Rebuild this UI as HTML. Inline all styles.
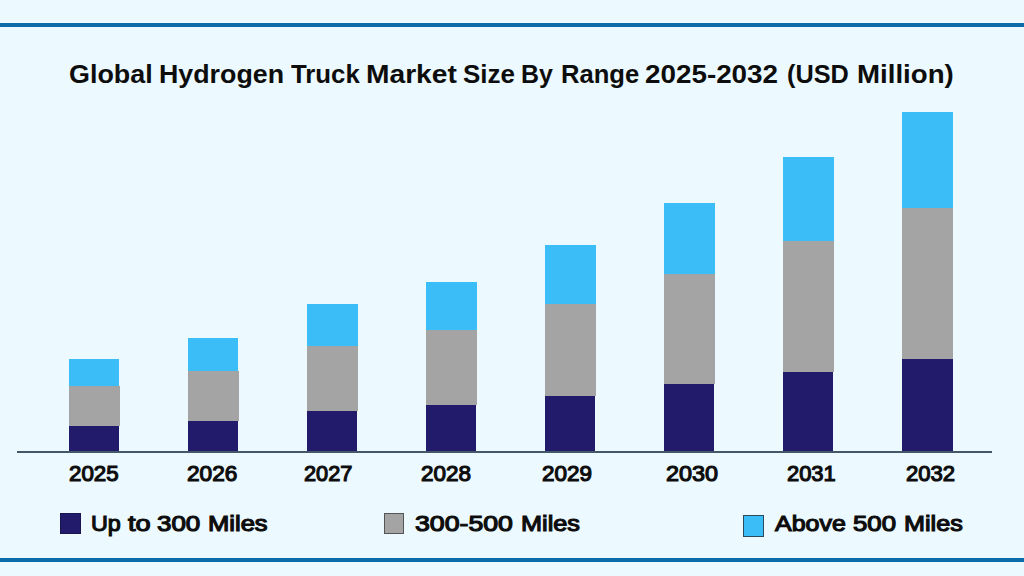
<!DOCTYPE html>
<html><head><meta charset="utf-8"><style>
html,body{margin:0;padding:0;}
body{width:1024px;height:576px;position:relative;overflow:hidden;background:#ecf9fe;font-family:"Liberation Sans",sans-serif;color:#0d0d0d;}
.ln{position:absolute;left:0;width:1024px;height:4px;background:#0a6ca8;}
.ax{position:absolute;left:17px;width:975px;top:451px;height:2px;background:#45586a;}
.b{position:absolute;}
.c1{background:#3bbef8;}
.c2{background:#a4a4a4;}
.c3{background:#221b6b;}
.w{position:absolute;white-space:nowrap;transform-origin:0 0;}
.t{font-size:26.5px;line-height:34px;top:57px;font-weight:bold;}
.y{font-size:22px;line-height:30px;top:459px;font-weight:normal;-webkit-text-stroke:1.15px #0d0d0d;}
.l{font-size:22px;line-height:30px;top:509px;font-weight:normal;-webkit-text-stroke:1.15px #0d0d0d;}
.sq{position:absolute;box-sizing:border-box;border:1px solid #333;}
</style></head><body>
<div class="ln" style="top:23px"></div>
<div class="ln" style="top:558px"></div>
<div class="w t" style="left:69.28px;transform:scaleX(1.015)">Global</div>
<div class="w t" style="left:159.18px;transform:scaleX(1.0108)">Hydrogen</div>
<div class="w t" style="left:291.0px;transform:scaleX(0.9718)">Truck</div>
<div class="w t" style="left:365.87px;transform:scaleX(1.0633)">Market</div>
<div class="w t" style="left:462.77px;transform:scaleX(0.9804)">Size</div>
<div class="w t" style="left:521.12px;transform:scaleX(0.9406)">By</div>
<div class="w t" style="left:561.07px;transform:scaleX(0.9654)">Range</div>
<div class="w t" style="left:645.25px;transform:scaleX(1.0496)">2025-2032</div>
<div class="w t" style="left:787.05px;transform:scaleX(0.954)">(USD</div>
<div class="w t" style="left:857.11px;transform:scaleX(1.0433)">Million)</div>
<div class="b c1" style="left:69px;top:359px;width:50px;height:27px"></div>
<div class="b c2" style="left:69px;top:386px;width:51px;height:40px"></div>
<div class="b c3" style="left:69px;top:426px;width:50px;height:25px"></div>
<div class="b c1" style="left:188px;top:338px;width:50px;height:33px"></div>
<div class="b c2" style="left:188px;top:371px;width:51px;height:50px"></div>
<div class="b c3" style="left:188px;top:421px;width:50px;height:30px"></div>
<div class="b c1" style="left:307px;top:304px;width:51px;height:42px"></div>
<div class="b c2" style="left:307px;top:346px;width:51px;height:65px"></div>
<div class="b c3" style="left:307px;top:411px;width:50px;height:40px"></div>
<div class="b c1" style="left:426px;top:282px;width:51px;height:48px"></div>
<div class="b c2" style="left:426px;top:330px;width:51px;height:75px"></div>
<div class="b c3" style="left:426px;top:405px;width:50px;height:46px"></div>
<div class="b c1" style="left:545px;top:245px;width:51px;height:59px"></div>
<div class="b c2" style="left:545px;top:304px;width:51px;height:92px"></div>
<div class="b c3" style="left:545px;top:396px;width:50px;height:55px"></div>
<div class="b c1" style="left:664px;top:203px;width:51px;height:71px"></div>
<div class="b c2" style="left:664px;top:274px;width:51px;height:110px"></div>
<div class="b c3" style="left:664px;top:384px;width:50px;height:67px"></div>
<div class="b c1" style="left:783px;top:157px;width:51px;height:83.5px"></div>
<div class="b c2" style="left:783px;top:240.5px;width:51px;height:131.0px"></div>
<div class="b c3" style="left:783px;top:371.5px;width:50px;height:79.5px"></div>
<div class="b c1" style="left:902px;top:112px;width:51px;height:96px"></div>
<div class="b c2" style="left:902px;top:208px;width:51px;height:151px"></div>
<div class="b c3" style="left:902px;top:359px;width:51px;height:92px"></div>
<div class="ax"></div>
<div class="w y" style="left:68.69px;transform:scaleX(1.0146)">2025</div>
<div class="w y" style="left:186.77px;transform:scaleX(1.0292)">2026</div>
<div class="w y" style="left:303.61px;transform:scaleX(0.9896)">2027</div>
<div class="w y" style="left:421.23px;transform:scaleX(1.0219)">2028</div>
<div class="w y" style="left:542.18px;transform:scaleX(1.0219)">2029</div>
<div class="w y" style="left:665.84px;transform:scaleX(1.0625)">2030</div>
<div class="w y" style="left:787.2px;transform:scaleX(0.9958)">2031</div>
<div class="w y" style="left:905.6px;transform:scaleX(1.0031)">2032</div>
<div class="sq" style="left:60px;top:512.5px;width:20.5px;height:21px;background:#221b6b;border-color:#1a1550"></div>
<div class="sq" style="left:384px;top:512.5px;width:20px;height:21.5px;background:#a4a4a4;border-color:#555"></div>
<div class="sq" style="left:743px;top:515px;width:21px;height:22px;background:#3bbef8;border-color:#2c4a5c"></div>
<div class="w l" style="left:90.54px;transform:scaleX(1.0593)">Up</div>
<div class="w l" style="left:128.0px;transform:scaleX(1.2333)">to</div>
<div class="w l" style="left:157.3px;transform:scaleX(1.1784)">300</div>
<div class="w l" style="left:208.04px;transform:scaleX(1.162)">Miles</div>
<div class="w l" style="left:414.8px;transform:scaleX(1.2123)">300-500</div>
<div class="w l" style="left:520.55px;transform:scaleX(1.148)">Miles</div>
<div class="w l" style="left:775.25px;transform:scaleX(1.1347)">Above</div>
<div class="w l" style="left:853.4px;transform:scaleX(1.1703)">500</div>
<div class="w l" style="left:904.36px;transform:scaleX(1.144)">Miles</div>
</body></html>
